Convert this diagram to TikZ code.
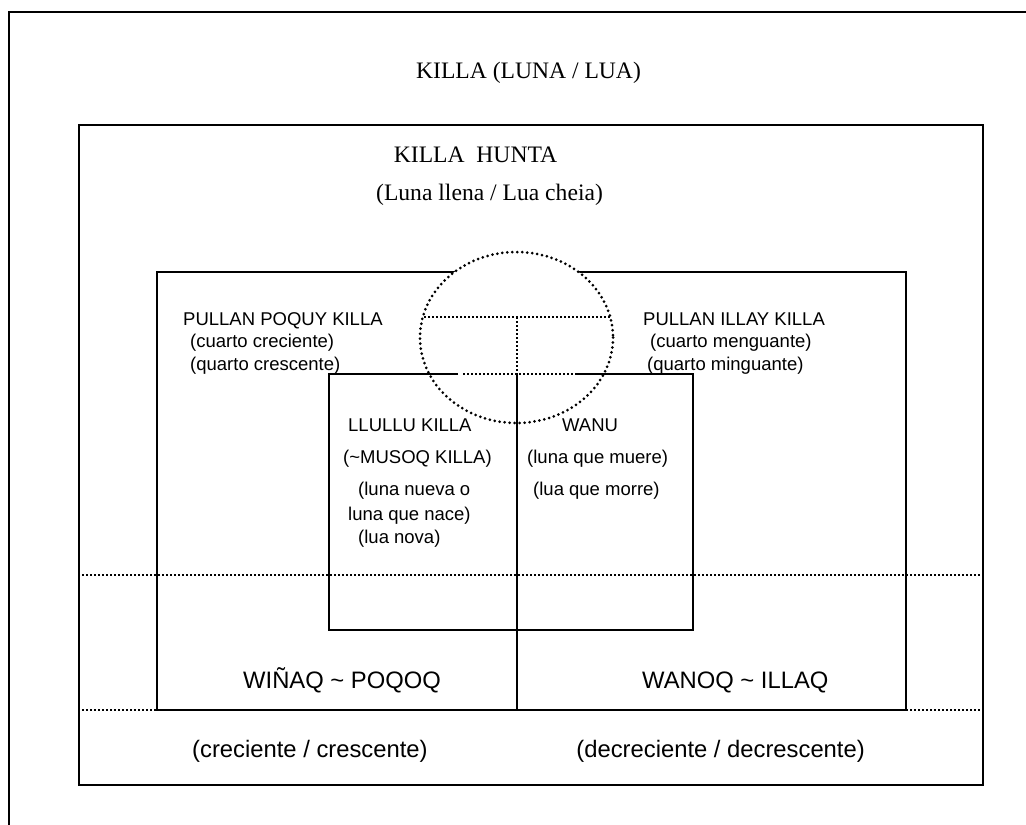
\documentclass[tikz,border=0pt]{standalone}
\usepackage{fontspec}
\setmainfont{Liberation Serif}
\setsansfont{Liberation Sans}
\begin{document}
\begin{tikzpicture}[x=1pt,y=-1pt,
  frame/.style={line width=2.5pt},
  inner/.style={line width=2.2pt},
  dotline/.style={line width=2pt, dash pattern=on 2pt off 2pt},
  dotcirc/.style={line width=3pt, line cap=round, dash pattern=on 0pt off 5pt},
  ser/.style={inner sep=0pt, font=\rmfamily\fontsize{23.6}{26}\selectfont},
  sml/.style={inner sep=0pt, font=\sffamily\fontsize{18.5}{22}\selectfont},
  big/.style={inner sep=0pt, font=\sffamily\fontsize{23.8}{28}\selectfont}]
\useasboundingbox (0,0) rectangle (1026,825);
\fill[white] (0,0) rectangle (1026,825);
% outer frame
\coordinate (oTL) at (9,12);
\coordinate (oTR) at (1030,12);
\coordinate (oBL) at (9,830);
\draw[frame] (oBL) -- (oTL) -- (oTR);
% box 2
\draw[frame] (79,125) rectangle (983,785);
% dotted horizontals
\coordinate (d1a) at (82,575); \coordinate (d1b) at (985,575);
\coordinate (d2a) at (82,710); \coordinate (d2b) at (985,710);
\draw[dotline] (d1a) -- (d1b);
\draw[dotline] (d2a) -- (d2b);
% box 3
\draw[frame] (157,272) rectangle (906,710);
% circle
\fill[white] (516.5,337.5) ellipse [x radius=96.5, y radius=85.5];
\draw[dotcirc] (516.5,337.5) ellipse [x radius=96.5, y radius=85.5];
% inner box
\coordinate (iTL) at (329,374);
\coordinate (iTR) at (693,374);
\coordinate (iBL) at (329,630);
\coordinate (iBR) at (693,630);
\coordinate (sL) at (458,374);
\coordinate (dL) at (463,374);
\coordinate (dR) at (577,374);
\draw[inner] (sL) -- (iTL) -- (iBL) -- (iBR) -- (iTR) -- (dR);
\draw[dotline] (dL) -- (dR);
% T inside circle
\coordinate (tL) at (424,317);
\coordinate (tR) at (610,317);
\coordinate (tM) at (517,317);
\coordinate (vM) at (517,374);
\coordinate (vB) at (517,710);
\draw[dotline] (tL) -- (tR);
\draw[dotline] (tM) -- (vM);
\draw[inner] (vM) -- (vB);
% texts
\node[ser, anchor=base] (title) at (528.5,78) {KILLA (LUNA / LUA)};
\node[ser, anchor=base] (hunta) at (475.5,162) {KILLA\ \ HUNTA};
\node[ser, anchor=base] (llena) at (489.5,200) {(Luna llena / Lua cheia)};
\node[sml, anchor=base west] (pp1) at (183,325) {PULLAN POQUY KILLA};
\node[sml, anchor=base west] (pp2) at (190,347) {(cuarto creciente)};
\node[sml, anchor=base west] (pp3) at (190,370) {(quarto crescente)};
\node[sml, anchor=base west] (pi1) at (643,325) {PULLAN ILLAY KILLA};
\node[sml, anchor=base west] (pi2) at (650,347) {(cuarto menguante)};
\node[sml, anchor=base west] (pi3) at (647,370) {(quarto minguante)};
\node[sml, anchor=base west] (ll1) at (348,431) {LLULLU KILLA};
\node[sml, anchor=base west] (ll2) at (343,463) {(\char"7E MUSOQ KILLA)};
\node[sml, anchor=base west] (ll3) at (358,495) {(luna nueva o};
\node[sml, anchor=base west] (ll4) at (348,520) {luna que nace)};
\node[sml, anchor=base west] (ll5) at (358,543) {(lua nova)};
\node[sml, anchor=base west] (wa1) at (562,431) {WANU};
\node[sml, anchor=base west] (wa2) at (527,463) {(luna que muere)};
\node[sml, anchor=base west] (wa3) at (533,495) {(lua que morre)};
\node[big, anchor=base west] (win) at (243,688) {WIÑAQ \char"7E{} POQOQ};
\node[big, anchor=base west] (wan) at (642,688) {WANOQ \char"7E{} ILLAQ};
\node[big, anchor=base west] (cre) at (192,757) {(creciente / crescente)};
\node[big, anchor=base east] (dec) at (865,757) {(decreciente / decrescente)};
\end{tikzpicture}
\end{document}
